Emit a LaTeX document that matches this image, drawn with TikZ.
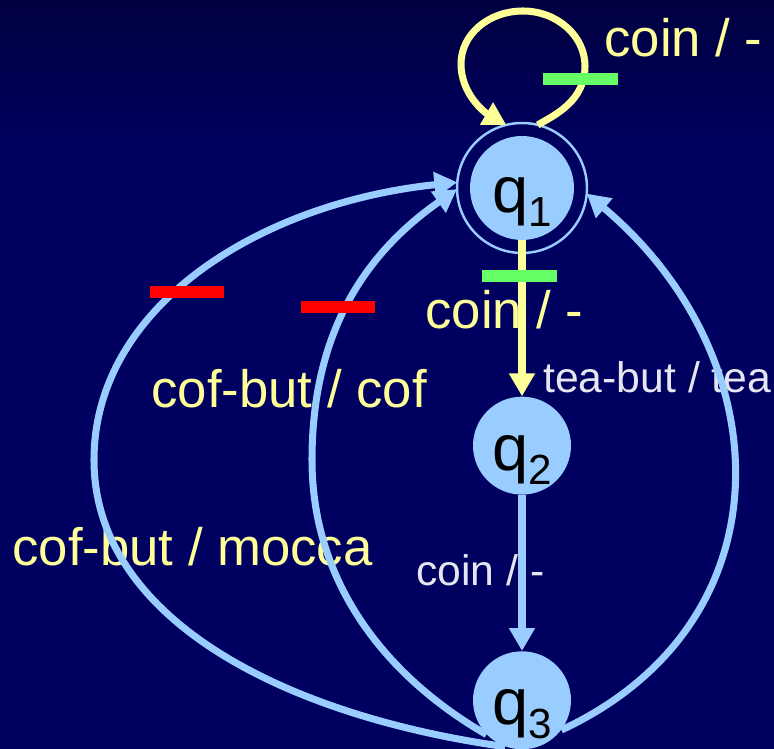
\documentclass[tikz,border=0pt]{standalone}
\usepackage{fontspec}
\setmainfont{Liberation Sans}
\usepackage{xcolor}
\definecolor{night}{RGB}{0,0,96}
\definecolor{nighttop}{RGB}{0,0,64}
\definecolor{sky}{RGB}{153,204,255}
\definecolor{butter}{RGB}{255,255,153}
\definecolor{lime}{RGB}{102,255,102}
\definecolor{signal}{RGB}{255,0,0}
\definecolor{mist}{RGB}{230,230,240}
\usetikzlibrary{arrows.meta,positioning}
\newcommand{\qidx}[1]{\raisebox{-8pt}{\fontsize{24}{24}\selectfont #1}}

\begin{document}
\begin{tikzpicture}[
  x=0.02cm, y=0.02cm,
  state/.style={circle,fill=sky,minimum size=1.96cm,inner sep=0pt,
                text height=28pt,text depth=0pt,
                font=\fontsize{37}{37}\selectfont},
  ring/.style={circle,draw=sky,line width=1.4pt,minimum size=2.6cm,
               inner sep=0pt,outer sep=0pt},
  trans/.style={draw=sky,line width=4pt,
                -{Triangle[length=13pt,width=14pt]}},
  bigtext/.style={anchor=base west,inner sep=0pt,text=butter,
                  font=\fontsize{30}{30}\selectfont},
  smalltext/.style={bigtext,text=mist,font=\fontsize{24.3}{24.3}\selectfont},
  cutbar/.style={rectangle,inner sep=0pt,minimum width=1.5cm,
                 minimum height=0.24cm},
  node distance=3.12cm,
]
  \useasboundingbox (0,0) rectangle (774,-749);
  \fill[night] (0,0) rectangle (774,-749);
  \shade[top color=nighttop,bottom color=night] (0,0) rectangle (774,-150);

  \node[state,minimum size=2.08cm] (q1) at (522,-188) {q\qidx{1}};
  \node[ring] (q1o) at (q1) {};
  \node[state,below=of q1] (q2) {q\qidx{2}};
  \node[state,below=of q2] (q3) {q\qidx{3}};

  \node[bigtext] (lbl-loop) at (604,-57) {coin / -};
  \node[bigtext] (lbl-coin) at (425,-329) {coin / -};
  \node[smalltext] (lbl-tea) at (543,-393) {tea-but / tea};
  \node[bigtext] (lbl-cof) at (151,-408) {cof-but / cof};
  \node[bigtext] (lbl-mocca) at (12,-565) {cof-but / mocca};
  \node[smalltext] (lbl-coin2) at (416,-585) {coin / -};

  \coordinate (loop-r) at (585,-66);
  \coordinate (loop-t) at (523,-11);
  \coordinate (loop-l) at (461,-64);
  \coordinate (mocca-w) at (94,-460);
  \coordinate (cof-w) at (312,-460);

  \draw[trans,draw=butter] (q1o.76)
    to[out=30,in=-90,out distance=0.4cm,in distance=0.7cm] (loop-r)
    to[out=90,in=0,out distance=0.6cm,in distance=0.68cm] (loop-t)
    to[out=180,in=90,out distance=0.68cm,in distance=0.6cm] (loop-l)
    to[out=-90,in=150,out distance=0.6cm,in distance=0.5cm] (q1o.104);
  \draw[trans,draw=butter] (q1.south) -- (q2.north);
  \draw[trans] (q2) -- (q3);
  \draw[trans] (q3.-37) to[out=25,in=320,distance=5.08cm] (q1o.-5);
  \draw[trans] (q3.-136)
    to[out=150,in=-90,distance=2.4cm] (cof-w)
    to[out=90,in=215,out distance=2.6cm,in distance=2.2cm] (q1o.181);
  \draw[trans] (q3.-110)
    to[out=172,in=-90,out distance=4.54cm,in distance=3.14cm] (mocca-w)
    to[out=90,in=186,out distance=3.06cm,in distance=4cm] (q1o.175);

  \node[cutbar,fill=lime] (tick1) at (580,-79) {};
  \node[cutbar,fill=lime] (tick2) at (519.5,-276.5) {};
  \node[cutbar,fill=signal] (cut1) at (187,-292) {};
  \node[cutbar,fill=signal] (cut2) at (338,-307) {};
\end{tikzpicture}
\end{document}
